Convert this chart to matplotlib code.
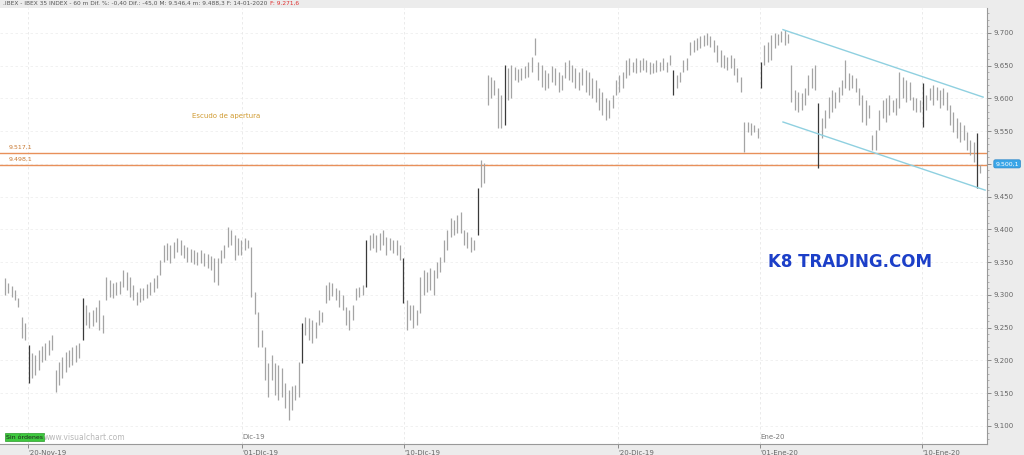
import matplotlib
matplotlib.use('Agg')
import numpy as np
import matplotlib.pyplot as plt
from matplotlib.ticker import MultipleLocator, FuncFormatter

# IBEX 35, 60 min bars (high / low)
highs = [9326, 9318, 9314, 9308, 9296, 9266, 9257, 9224, 9211, 9208,
         9216, 9222, 9227, 9231, 9239, 9186, 9198, 9205, 9213, 9216,
         9221, 9224, 9227, 9296, 9285, 9274, 9277, 9282, 9292, 9269,
         9327, 9323, 9318, 9320, 9321, 9338, 9335, 9327, 9315, 9304,
         9310, 9311, 9316, 9320, 9326, 9331, 9353, 9376, 9379, 9376,
         9381, 9387, 9384, 9376, 9373, 9370, 9369, 9366, 9369, 9364,
         9363, 9359, 9356, 9356, 9369, 9376, 9404, 9399, 9392, 9387,
         9384, 9387, 9384, 9373, 9305, 9274, 9247, 9221, 9196, 9208,
         9196, 9193, 9189, 9166, 9155, 9161, 9163, 9198, 9257, 9266,
         9265, 9262, 9259, 9277, 9274, 9315, 9320, 9318, 9311, 9308,
         9300, 9282, 9277, 9285, 9311, 9312, 9315, 9384, 9392, 9395,
         9392, 9395, 9399, 9389, 9387, 9384, 9384, 9376, 9356, 9292,
         9285, 9285, 9277, 9327, 9338, 9335, 9341, 9338, 9350, 9358,
         9384, 9399, 9418, 9415, 9422, 9427, 9399, 9396, 9389, 9384,
         9463, 9506, 9502, 9636, 9633, 9628, 9616, 9605, 9651, 9647,
         9651, 9648, 9645, 9647, 9650, 9656, 9663, 9692, 9656, 9651,
         9644, 9639, 9650, 9647, 9641, 9636, 9656, 9659, 9651, 9647,
         9641, 9647, 9644, 9641, 9631, 9628, 9616, 9610, 9601, 9598,
         9605, 9628, 9636, 9641, 9659, 9662, 9656, 9662, 9659, 9662,
         9659, 9656, 9654, 9659, 9656, 9662, 9656, 9666, 9644, 9636,
         9641, 9659, 9662, 9686, 9689, 9692, 9695, 9697, 9700, 9695,
         9689, 9682, 9674, 9666, 9663, 9666, 9662, 9647, 9633, 9564,
         9564, 9562, 9560, 9555, 9656, 9682, 9686, 9697, 9700, 9699,
         9703, 9705, 9699, 9651, 9613, 9610, 9608, 9616, 9636, 9647,
         9651, 9593, 9570, 9582, 9602, 9613, 9610, 9618, 9628, 9659,
         9639, 9636, 9631, 9616, 9605, 9598, 9590, 9544, 9552, 9582,
         9598, 9601, 9605, 9598, 9601, 9641, 9633, 9628, 9625, 9602,
         9601, 9598, 9624, 9605, 9616, 9621, 9618, 9613, 9616, 9610,
         9590, 9579, 9570, 9564, 9560, 9549, 9537, 9534, 9547, 9498]
lows = [9300, 9303, 9297, 9292, 9282, 9234, 9231, 9166, 9173, 9178,
        9186, 9198, 9201, 9208, 9216, 9152, 9163, 9173, 9183, 9190,
        9193, 9198, 9204, 9231, 9254, 9250, 9253, 9259, 9247, 9242,
        9292, 9297, 9296, 9300, 9302, 9312, 9308, 9297, 9292, 9285,
        9289, 9292, 9296, 9300, 9305, 9311, 9331, 9350, 9353, 9349,
        9356, 9366, 9361, 9356, 9350, 9350, 9347, 9346, 9349, 9344,
        9341, 9338, 9320, 9315, 9349, 9356, 9373, 9376, 9353, 9361,
        9361, 9369, 9372, 9297, 9271, 9221, 9221, 9170, 9144, 9170,
        9147, 9140, 9144, 9128, 9109, 9124, 9140, 9144, 9196, 9239,
        9231, 9227, 9234, 9254, 9259, 9288, 9292, 9299, 9292, 9282,
        9277, 9254, 9247, 9262, 9292, 9297, 9300, 9312, 9369, 9372,
        9366, 9369, 9376, 9361, 9369, 9364, 9361, 9353, 9288, 9247,
        9262, 9250, 9254, 9272, 9300, 9305, 9308, 9300, 9326, 9335,
        9350, 9369, 9389, 9392, 9395, 9395, 9376, 9372, 9366, 9369,
        9392, 9465, 9471, 9590, 9601, 9605, 9555, 9555, 9560, 9598,
        9601, 9628, 9625, 9628, 9631, 9633, 9640, 9666, 9628, 9618,
        9613, 9616, 9625, 9621, 9610, 9613, 9631, 9628, 9625, 9616,
        9613, 9621, 9610, 9605, 9601, 9595, 9582, 9575, 9567, 9570,
        9586, 9605, 9610, 9616, 9631, 9636, 9641, 9639, 9641, 9644,
        9641, 9637, 9639, 9641, 9642, 9644, 9641, 9651, 9605, 9616,
        9625, 9641, 9644, 9666, 9671, 9674, 9677, 9680, 9682, 9679,
        9671, 9656, 9648, 9647, 9644, 9647, 9636, 9625, 9610, 9518,
        9549, 9544, 9548, 9540, 9616, 9651, 9656, 9659, 9677, 9682,
        9686, 9682, 9685, 9595, 9582, 9579, 9582, 9590, 9605, 9616,
        9613, 9494, 9540, 9555, 9570, 9579, 9586, 9595, 9605, 9616,
        9613, 9616, 9610, 9590, 9564, 9560, 9570, 9521, 9521, 9552,
        9570, 9564, 9575, 9579, 9575, 9586, 9601, 9595, 9598, 9582,
        9579, 9579, 9557, 9582, 9598, 9590, 9598, 9586, 9590, 9582,
        9560, 9549, 9540, 9534, 9537, 9521, 9514, 9503, 9463, 9486]
dark_bars = [7, 23, 88, 107, 118, 140, 148, 198, 224, 241, 272, 288]

tick_pos = [6.8, 70.2, 118.2, 181.6, 223.7, 271.7]
tick_labels = ["'20-Nov-19", "'01-Dic-19", "'10-Dic-19", "'20-Dic-19", "'01-Ene-20", "'10-Ene-20"]
month_pos = [70.2, 223.7]
month_labels = ['Dic-19', 'Ene-20']

levels = [9517.1, 9498.1]
level_labels = ['9.517,1', '9.498,1']
upper_chan = ([230.5, 289.8], [9705, 9602])
lower_chan = ([230.5, 290.4], [9564, 9460])
last_price = 9500.1

fig = plt.figure(figsize=(10.24, 4.55), dpi=100, facecolor='#ececec')
ax = fig.add_axes([0, 0.0242, 0.9639, 0.9582])
ax.set_facecolor('white')
ax.set_xlim(-1.48, 290.96)
ax.set_ylim(9072.5, 9738)

# grid
for v in range(9100, 9701, 50):
    ax.axhline(v, color='#efefef', lw=0.6, ls=(0, (3, 3)), zorder=0)
for p in tick_pos:
    ax.axvline(p, color='#e8e8e8', lw=0.6, ls=(0, (3, 3)), zorder=0)

x = np.arange(len(highs))
cols = ['#3a3a3a' if i in dark_bars else '#a4a4a4' for i in x]
ax.vlines(x, lows, highs, colors=cols, lw=0.9, zorder=3)

# support levels
for lv, lab in zip(levels, level_labels):
    ax.axhline(lv, color='#e8905a', lw=1.0, zorder=2)
    ax.text(1.0, lv + 5, lab, fontsize=4.5, color='#c87830', va='bottom')
ax.text(55.5, 9570, 'Escudo de apertura', fontsize=5, color='#d09a30')

# channel
ax.plot(*upper_chan, color='#8fd0e0', lw=1.0, zorder=4)
ax.plot(*lower_chan, color='#8fd0e0', lw=1.0, zorder=4)

ax.text(226, 9350, 'K8 TRADING.COM', fontsize=12, fontweight='bold', color='#1c3fc8',
        va='center')

for p, lab in zip(month_pos, month_labels):
    ax.text(p, 9078, lab, fontsize=5, color='#777777', va='bottom')

# axes styling
for s in ['top', 'left']:
    ax.spines[s].set_visible(False)
ax.spines['bottom'].set_color('#999999')
ax.spines['right'].set_color('#999999')
ax.yaxis.tick_right()
ax.yaxis.set_major_locator(MultipleLocator(50))
ax.yaxis.set_minor_locator(MultipleLocator(10))
# the 9.500 label sits under the last-price marker
ax.yaxis.set_major_formatter(FuncFormatter(lambda v, p: '' if abs(v - 9500) < 1 else f'{v/1000:.3f}'))
ax.tick_params(axis='y', which='major', labelsize=5, colors='#666666', length=3, pad=2, width=0.5)
ax.tick_params(axis='y', which='minor', length=1.5, colors='#999999', width=0.5)
ax.set_xticks(tick_pos)
ax.set_xticklabels(tick_labels)
ax.tick_params(axis='x', labelsize=5, colors='#666666', length=3, pad=1, width=0.5)
for t in ax.get_xticklabels():
    t.set_ha('left')

# price marker
ax.annotate('9.500,1', xy=(1.0, last_price), xycoords=('axes fraction', 'data'),
            xytext=(6, 0), textcoords='offset points', fontsize=4.5, color='white',
            va='center', annotation_clip=False,
            bbox=dict(boxstyle='round,pad=0.25', fc='#3aa6e8', ec='#2a86c8', lw=0.5))

# header and footer
fig.text(0.003, 0.992, '.IBEX - IBEX 35 INDEX - 60 m Dif. %: -0,40 Dif.: -45,0 M: 9.546,4 m: 9.488,3 F: 14-01-2020',
         fontsize=4.2, color='#555555', va='center')
fig.text(0.264, 0.992, 'F: 9.271,6', fontsize=4.2, color='#e03030', va='center')
fig.text(0.006, 0.0395, 'Sin órdenes', fontsize=4.5, color='#202020', va='center',
         bbox=dict(boxstyle='square,pad=0.2', fc='#3ec83e', ec='#2a9a2a', lw=0.5))
fig.text(0.043, 0.0395, 'www.visualchart.com', fontsize=5.5, color='#b8b8b8', va='center')

fig.savefig('out.png', dpi=100, facecolor=fig.get_facecolor())
